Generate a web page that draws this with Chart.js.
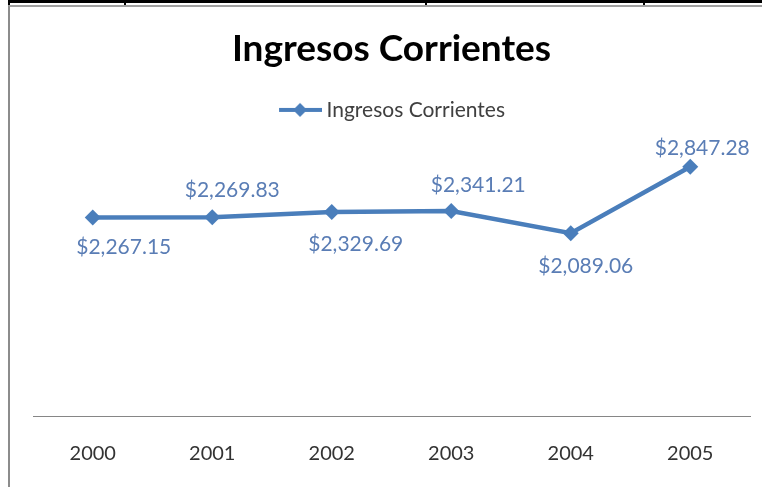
<!DOCTYPE html>
<html>
<head>
<meta charset="utf-8">
<script src="https://cdn.jsdelivr.net/npm/chart.js@4/dist/chart.umd.min.js"></script>
<style>
  html, body { margin: 0; padding: 0; background: #fff; overflow: hidden; width: 762px; height: 487px; }
  #topline { position: absolute; left: 8px; top: 0; width: 754px; height: 3px; background: #000; }
  .tick { position: absolute; top: 0; width: 2px; height: 5px; background: #000; }
  #frame { position: absolute; left: 8px; top: 5px; width: 800px; height: 500px;
           border-left: 2px solid #8c8c8c; border-top: 2px solid #a0a0a0; }
  #wrap { position: absolute; left: 10px; top: 7px; width: 764px; height: 485px; }
</style>
</head>
<body>
<div id="topline"></div>
<div class="tick" style="left:8px"></div>
<div class="tick" style="left:124px"></div>
<div class="tick" style="left:425px"></div>
<div class="tick" style="left:643px"></div>
<div id="frame"></div>
<div id="wrap"><canvas id="c"></canvas></div>
<script>
const categories = ['2000', '2001', '2002', '2003', '2004', '2005'];
const seriesName = 'Ingresos Corrientes';
const ingresos = [2267.15, 2269.83, 2329.69, 2341.21, 2089.06, 2847.28];
const chartTitle = 'Ingresos Corrientes';
// data-label placement (offset from each point, px) — styling only
const labelDx = [31, 20, 24, 27, 15, 12];
const labelDy = [30, -27, 32, -26, 33, -19];

const LINE_COLOR = '#4a7ebb';
const LABEL_COLOR = '#5a7db5';
const FONT = 'Lato, "Open Sans", sans-serif';

// legend symbol: line with diamond
const sym = document.createElement('canvas');
sym.width = 50; sym.height = 16;
(function () {
  const g = sym.getContext('2d');
  g.strokeStyle = LINE_COLOR; g.lineWidth = 4;
  g.beginPath(); g.moveTo(7, 8); g.lineTo(50, 8); g.stroke();
  g.fillStyle = LINE_COLOR;
  g.beginPath(); g.moveTo(28, 1); g.lineTo(35, 8); g.lineTo(28, 15); g.lineTo(21, 8); g.closePath(); g.fill();
})();

function fmt(v) {
  return '$' + v.toLocaleString('en-US', { minimumFractionDigits: 2, maximumFractionDigits: 2 });
}

const dataLabels = {
  id: 'dataLabels',
  afterDatasetsDraw(chart) {
    const ctx = chart.ctx;
    const meta = chart.getDatasetMeta(0);
    ctx.save();
    ctx.font = '21px ' + FONT;
    ctx.fillStyle = LABEL_COLOR;
    ctx.textAlign = 'center';
    ctx.textBaseline = 'middle';
    meta.data.forEach((el, i) => {
      ctx.fillText(fmt(ingresos[i]), el.x + labelDx[i], el.y + labelDy[i]);
    });
    ctx.restore();
  }
};

new Chart(document.getElementById('c'), {
  type: 'line',
  data: {
    labels: categories,
    datasets: [{
      label: seriesName,
      data: ingresos,
      xAxisID: 'x',
      borderColor: LINE_COLOR,
      backgroundColor: LINE_COLOR,
      borderWidth: 4.5,
      pointStyle: 'rectRot',
      pointRadius: 8,
      pointBackgroundColor: LINE_COLOR,
      pointBorderColor: LINE_COLOR,
      pointBorderWidth: 0,
      tension: 0,
      fill: false
    }]
  },
  options: {
    responsive: true,
    maintainAspectRatio: false,
    animation: false,
    layout: { padding: { left: 23, right: 24, top: 0, bottom: 0 } },
    plugins: {
      title: {
        display: true,
        text: chartTitle,
        color: '#000',
        font: { family: FONT, size: 37, weight: 'bold' },
        padding: { top: 20, bottom: 18 }
      },
      legend: {
        display: true,
        position: 'top',
        labels: {
          usePointStyle: true,
          pointStyle: sym,
          pointStyleWidth: 38,
          color: '#404040',
          font: { family: FONT, size: 21 },
          padding: 10
        }
      },
      tooltip: { enabled: false }
    },
    scales: {
      x: {
        type: 'category',
        position: 'bottom',
        offset: true,
        grid: { display: false, drawTicks: false },
        border: { display: true, color: '#868686', width: 1 },
        ticks: { color: '#333', font: { family: FONT, size: 20 }, padding: 26, maxRotation: 0 }
      },
      xTop: {
        type: 'category',
        position: 'top',
        offset: true,
        grid: { display: false, drawTicks: false },
        border: { display: false },
        ticks: { display: false },
        afterFit(s) { s.height = 23; }
      },
      y: {
        display: false,
        min: 0,
        max: 3000
      }
    }
  },
  plugins: [dataLabels]
});
</script>
</body>
</html>
